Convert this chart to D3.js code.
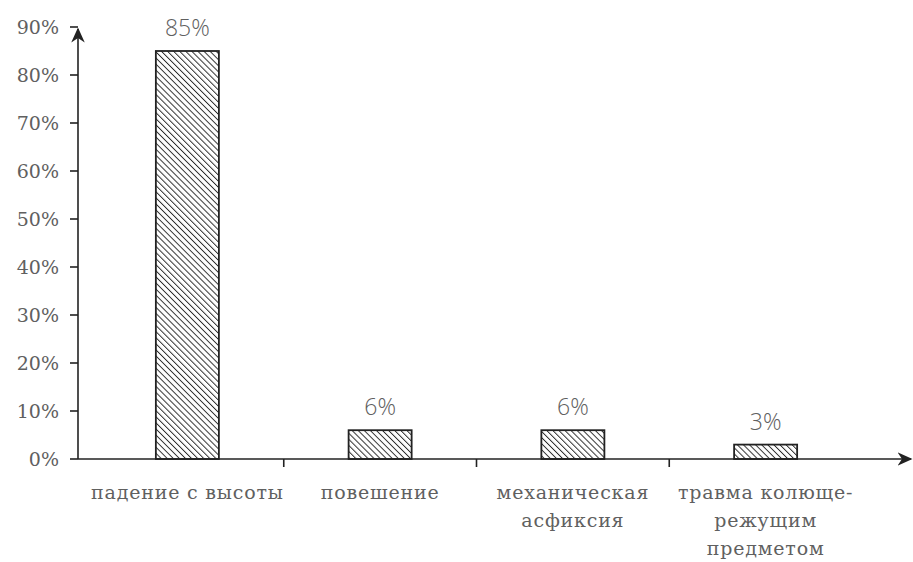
<!DOCTYPE html>
<html>
<head>
<meta charset="utf-8">
<script src="https://cdn.jsdelivr.net/npm/d3@7"></script>
<style>
  body { margin: 0; background: #fff; }
  text { font-family: "DejaVu Serif", "Liberation Serif", serif; fill: #606060; }
  text.val { font-family: "Open Sans", "Liberation Sans", sans-serif; font-weight: 300; }
</style>
</head>
<body>
<svg id="chart" width="913" height="562"></svg>
<script>
// data
const categories = [
    ["падение с высоты"],
    ["повешение"],
    ["механическая", "асфиксия"],
    ["травма колюще-", "режущим", "предметом"]
];
const values = [85, 6, 6, 3];
const valueLabels = ["85%", "6%", "6%", "3%"];
const yTicks = [0, 10, 20, 30, 40, 50, 60, 70, 80, 90];

const svg = d3.select("#chart");

const x0 = 78, yBase = 459;

const x = d3.scaleBand()
    .domain(d3.range(categories.length))
    .range([91, 862])
    .paddingInner(0.673)
    .paddingOuter(0.3365);

const y = d3.scaleLinear()
    .domain([0, 90])
    .range([yBase, 27]);

// hatch pattern, lines running top-left to bottom-right
const defs = svg.append("defs");
const pat = defs.append("pattern")
    .attr("id", "hatch")
    .attr("patternUnits", "userSpaceOnUse")
    .attr("width", 4.3)
    .attr("height", 4.3)
    .attr("patternTransform", "rotate(-45)");
pat.append("rect").attr("width", 4.3).attr("height", 4.3).attr("fill", "#fff");
pat.append("line")
    .attr("x1", 0).attr("y1", 0).attr("x2", 0).attr("y2", 4.3)
    .attr("stroke", "#2a2a2a").attr("stroke-width", 1.9);

defs.append("marker")
    .attr("id", "arrow")
    .attr("viewBox", "0 0 10 10")
    .attr("refX", 9).attr("refY", 5)
    .attr("markerWidth", 15).attr("markerHeight", 15)
    .attr("markerUnits", "userSpaceOnUse")
    .attr("orient", "auto")
    .append("path")
        .attr("d", "M0,0.5 L10,5 L0,9.5 L3,5 Z")
        .attr("fill", "#222");

// bars
svg.selectAll("rect.bar")
    .data(values)
    .join("rect")
        .attr("class", "bar")
        .attr("x", (d, i) => x(i))
        .attr("y", d => y(d))
        .attr("width", x.bandwidth())
        .attr("height", d => yBase - y(d))
        .attr("fill", "url(#hatch)")
        .attr("stroke", "#222")
        .attr("stroke-width", 1.8);

svg.selectAll("text.val")
    .data(values)
    .join("text")
        .attr("class", "val")
        .attr("x", (d, i) => x(i) + x.bandwidth() / 2)
        .attr("y", d => y(d) - 15)
        .attr("text-anchor", "middle")
        .attr("font-size", 23)
        .text((d, i) => valueLabels[i]);

// y axis
const yAxis = svg.append("g");
yAxis.append("line")
    .attr("x1", x0).attr("y1", yBase)
    .attr("x2", x0).attr("y2", y(90) + 2)
    .attr("stroke", "#222").attr("stroke-width", 1.6)
    .attr("marker-end", "url(#arrow)");
yAxis.selectAll("line.tick")
    .data(yTicks)
    .join("line")
        .attr("class", "tick")
        .attr("x1", x0 - 8).attr("x2", x0)
        .attr("y1", d => y(d)).attr("y2", d => y(d))
        .attr("stroke", "#222").attr("stroke-width", 1.6);
yAxis.selectAll("text")
    .data(yTicks)
    .join("text")
        .attr("x", 59)
        .attr("y", d => y(d) + 7)
        .attr("text-anchor", "end")
        .attr("font-size", 19)
        .text(d => d + "%");

// x axis
const xAxis = svg.append("g");
xAxis.append("line")
    .attr("x1", x0).attr("y1", yBase)
    .attr("x2", 911).attr("y2", yBase)
    .attr("stroke", "#222").attr("stroke-width", 1.6)
    .attr("marker-end", "url(#arrow)");
xAxis.selectAll("line.tick")
    .data(d3.range(1, categories.length))
    .join("line")
        .attr("class", "tick")
        .attr("x1", i => x(i) - x.step() * x.paddingInner() / 2)
        .attr("x2", i => x(i) - x.step() * x.paddingInner() / 2)
        .attr("y1", yBase).attr("y2", yBase + 8)
        .attr("stroke", "#222").attr("stroke-width", 1.6);

xAxis.selectAll("text")
    .data(categories)
    .join("text")
        .attr("text-anchor", "middle")
        .attr("font-size", 19)
        .attr("letter-spacing", 0.8)
        .each(function(lines, i) {
            const t = d3.select(this);
            lines.forEach((ln, k) => {
                t.append("tspan")
                    .attr("x", x(i) + x.bandwidth() / 2)
                    .attr("y", 499 + k * 28)
                    .text(ln);
            });
        });
</script>
</body>
</html>
